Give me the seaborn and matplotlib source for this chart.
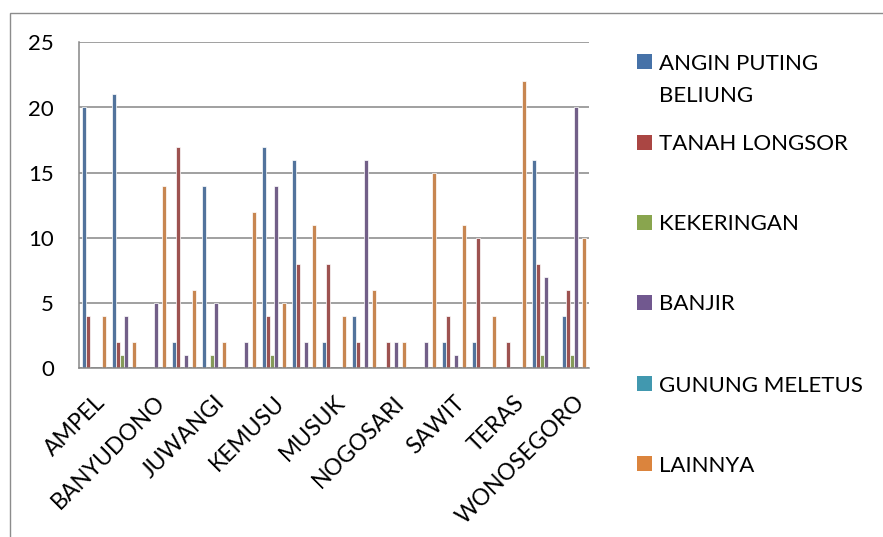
import numpy as np
import pandas as pd
import seaborn as sns
import matplotlib
matplotlib.use("Agg")
import matplotlib.pyplot as plt
from matplotlib.patches import Rectangle

# ---------------- data ----------------
kecamatan = ["AMPEL", "ANDONG", "BANYUDONO", "CEPOGO", "JUWANGI", "KARANGGEDE",
             "KEMUSU", "KLEGO", "MUSUK", "NGEMPLAK", "NOGOSARI", "SAMBI",
             "SAWIT", "SIMO", "TERAS", "WONOSAMODRO", "WONOSEGORO"]
shown_labels = ["AMPEL", "BANYUDONO", "JUWANGI", "KEMUSU", "MUSUK",
                "NOGOSARI", "SAWIT", "TERAS", "WONOSEGORO"]
series_names = ["ANGIN PUTING\nBELIUNG", "TANAH LONGSOR", "KEKERINGAN",
                "BANJIR", "GUNUNG MELETUS", "LAINNYA"]
angin_puting_beliung = [20, 21, 0, 2, 14, 0, 17, 16, 2, 4, 0, 0, 2, 2, 0, 16, 4]
tanah_longsor        = [4, 2, 0, 17, 0, 0, 4, 8, 8, 2, 2, 0, 4, 10, 2, 8, 6]
kekeringan           = [0, 1, 0, 0, 1, 0, 1, 0, 0, 0, 0, 0, 0, 0, 0, 1, 1]
banjir               = [0, 4, 5, 1, 5, 2, 14, 2, 0, 16, 2, 2, 1, 0, 0, 7, 20]
gunung_meletus       = [0, 0, 0, 0, 0, 0, 0, 0, 0, 0, 0, 0, 0, 0, 0, 0, 0]
lainnya              = [4, 2, 14, 6, 2, 12, 5, 11, 4, 6, 2, 15, 11, 4, 22, 0, 10]
colors = ["#4672A8", "#AA4643", "#89A54E", "#71588F", "#4198AF", "#DB843D"]

values = [angin_puting_beliung, tanah_longsor, kekeringan, banjir,
          gunung_meletus, lainnya]
rows = []
for name, vals in zip(series_names, values):
    for k, v in zip(kecamatan, vals):
        rows.append({"kecamatan": k, "bencana": name, "jumlah": v})
df = pd.DataFrame(rows)

# ---------------- figure ----------------
sns.set_theme(style="white")
plt.rcParams["font.family"] = ["Lato", "DejaVu Sans"]

W, H = 883, 537
fig = plt.figure(figsize=(W / 100, H / 100), dpi=100)
fig.patch.set_facecolor("white")
L, R, T, B = 79, 589, 42.3, 368.3
ax = fig.add_axes([L / W, 1 - B / H, (R - L) / W, (B - T) / H])

sns.barplot(data=df, x="kecamatan", y="jumlah", hue="bencana",
            order=kecamatan, hue_order=series_names, palette=colors,
            width=0.8, edgecolor="white", linewidth=0.5, legend=False,
            errorbar=None, ax=ax)

grid_c = "#868686"
ax.set_ylim(0, 25)
ax.set_xlim(-0.5, len(kecamatan) - 0.5)
ax.set_yticks(np.arange(0, 26, 5))
ax.yaxis.grid(True, color=grid_c, linewidth=1.1)
ax.set_axisbelow(True)
ax.set_xlabel("")
ax.set_ylabel("")

# category labels: every second one shown, at category centers
ax.set_xticks([kecamatan.index(s) for s in shown_labels])
ax.set_xticklabels(shown_labels, rotation=45, ha="right",
                   rotation_mode="anchor", fontsize=16.5)
ax.tick_params(axis="x", which="major", length=0, pad=17)
ax.set_xticks(np.arange(-0.5, len(kecamatan), 1.0), minor=True)
ax.tick_params(axis="x", which="minor", length=6.5, width=1.1,
               color=grid_c, direction="out")
ax.tick_params(axis="y", which="major", length=6.5, width=1.1,
               color=grid_c, direction="out", pad=11.5, labelsize=16)
for lab in ax.get_yticklabels() + ax.get_xticklabels():
    lab.set_color("#000000")

for s in ["top", "right"]:
    ax.spines[s].set_visible(False)
for s in ["left", "bottom"]:
    ax.spines[s].set_color(grid_c)
    ax.spines[s].set_linewidth(1.1)

# outer chart frame (extends past the image edges)
fig.add_artist(Rectangle((10 / W, -0.1), 1.2, 1 - 13 / H + 0.1,
                         transform=fig.transFigure, fill=False,
                         edgecolor="#8c8c8c", linewidth=1.0, clip_on=False))

# legend
sq = 15
leg_y = [61.5, 142.5, 222.5, 302.5, 383.5, 463.5]
for name, col, yc in zip(series_names, colors, leg_y):
    fig.add_artist(Rectangle((637 / W, 1 - (yc + sq / 2) / H), sq / W, sq / H,
                             transform=fig.transFigure, facecolor=col,
                             edgecolor="none"))
    lines = name.split("\n")
    for i, ln in enumerate(lines):
        fig.text(659 / W, 1 - (yc + 8 + i * 32) / H, ln, fontsize=16,
                 color="black", ha="left", va="baseline")

fig.savefig("out.png", dpi=100, facecolor="white")
